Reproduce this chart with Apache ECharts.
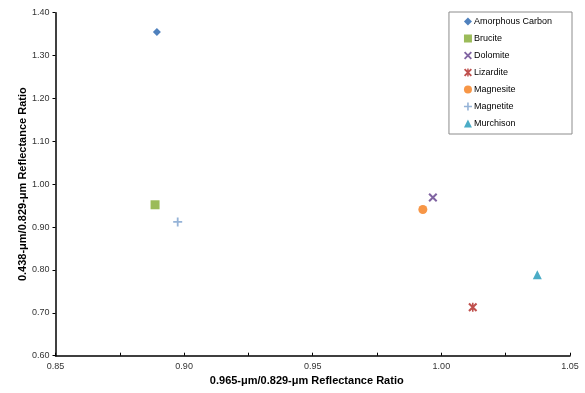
<!DOCTYPE html>
<html>
<head>
<meta charset="utf-8">
<script src="https://cdn.jsdelivr.net/npm/echarts@6/dist/echarts.min.js"></script>
<style>
  html, body { margin: 0; padding: 0; background: #fff; }
  #chart { width: 585px; height: 393px; }
</style>
</head>
<body>
<div id="chart"></div>
<script>
// minerals and their reflectance ratios
const names = ['Amorphous Carbon', 'Brucite', 'Dolomite', 'Lizardite', 'Magnesite', 'Magnetite', 'Murchison']
const xRatio = [0.8894, 0.8887, 0.9967, 1.0122, 0.9928, 0.8975, 1.0373]
const yRatio = [1.355, 0.952, 0.969, 0.713, 0.941, 0.912, 0.789]
const colors = ['#4F81BD', '#9BBB59', '#8064A2', '#C0504D', '#F79646', '#95B3D7', '#4BACC6']

// marker shapes, excel style
const xPath = 'path://M0,1.6L1.6,0L10,8.4L8.4,10Z M8.4,0L10,1.6L1.6,10L0,8.4Z'
const starPath = 'path://M0,1.6L1.6,0L10,8.4L8.4,10Z M8.4,0L10,1.6L1.6,10L0,8.4Z M4.1,0L5.9,0L5.9,10L4.1,10Z'
const plusPath = 'path://M4,0L6,0L6,10L4,10Z M0,4L10,4L10,6L0,6Z'
const symbols = ['diamond', 'rect', xPath, starPath, 'circle', plusPath, 'triangle']
const sizes = [8, 9, 9, 9, 9, 9, 9]

const font = 'Liberation Sans, Arial, sans-serif'

const series = names.map((n, i) => ({
    name: n,
    type: 'scatter',
    symbol: symbols[i],
    symbolSize: sizes[i],
    itemStyle: { color: colors[i], opacity: 1 },
    data: [[xRatio[i], yRatio[i]]]
}))

const option = {
    animation: false,
    textStyle: { fontFamily: font },
    grid: { left: 55.5, right: 15, top: 12.7, bottom: 37.3 },
    legend: {
        orient: 'vertical',
        right: 13,
        top: 12,
        itemWidth: 8,
        itemHeight: 8,
        itemGap: 8,
        padding: [5, 20, 6, 15],
        borderColor: '#8c8c8c',
        borderWidth: 1,
        textStyle: { fontSize: 9, color: '#000', fontFamily: font, padding: [0, 0, 0, -3] },
        data: names
    },
    xAxis: {
        type: 'value',
        min: 0.85,
        max: 1.05,
        interval: 0.05,
        name: '0.965-μm/0.829-μm Reflectance Ratio',
        nameLocation: 'middle',
        nameGap: 20,
        nameTextStyle: { fontSize: 11, fontWeight: 'bold', color: '#000', fontFamily: font, padding: [0, 12, 0, 0] },
        axisLine: { lineStyle: { color: '#000', width: 1.5 } },
        axisTick: { inside: true, length: 3, lineStyle: { color: '#000' } },
        minorTick: { show: true, splitNumber: 2, length: 3, lineStyle: { color: '#000' } },
        axisLabel: { fontSize: 9, color: '#333', margin: 6, formatter: v => v.toFixed(2) },
        splitLine: { show: false }
    },
    yAxis: {
        type: 'value',
        min: 0.6,
        max: 1.4,
        interval: 0.1,
        name: '0.438-μm/0.829-μm Reflectance Ratio',
        nameLocation: 'middle',
        nameGap: 27,
        nameMoveOverlap: false,
        nameTextStyle: { fontSize: 11, fontWeight: 'bold', color: '#000', fontFamily: font },
        axisLine: { show: true, lineStyle: { color: '#000', width: 1.5 } },
        axisTick: { show: true, length: 3, lineStyle: { color: '#000' } },
        axisLabel: { fontSize: 9, color: '#333', margin: 6, formatter: v => v.toFixed(2) },
        splitLine: { show: false }
    },
    series: series
}

const myChart = echarts.init(document.getElementById('chart'))
myChart.setOption(option)
</script>
</body>
</html>
